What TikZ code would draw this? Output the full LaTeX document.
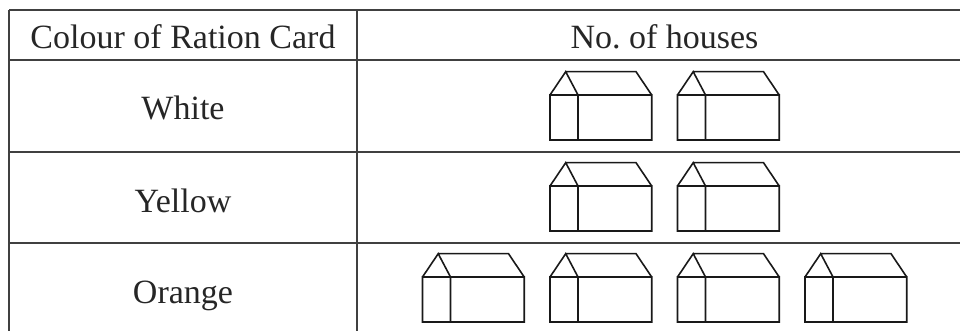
\documentclass[tikz,border=0pt]{standalone}
\usepackage{fontspec}
\setmainfont{Liberation Serif}
\begin{document}
\begin{tikzpicture}
  [x=1pt,y=1pt,
   grid/.style={line width=1.6pt,black!75},
   label/.style={inner sep=0pt,anchor=base,font=\fontsize{34}{40}\selectfont,text=black!85},
   house/.pic={
     \draw[line width=1.6pt,black!90,line join=miter]
       (0,0) rectangle (101.7,45)
       (28,0) -- (28,45)
       (0,45) -- (15.7,68.3) -- (28,45)
       (15.7,68.3) -- (86,68.3) -- (101.7,45);
   }]
\useasboundingbox (0,0) rectangle (960,331);

% table frame
\coordinate (tl) at (9,321);
\coordinate (tr) at (960,321);
\coordinate (bl) at (9,0);
\coordinate (ml) at (357,321);
\coordinate (mb) at (357,0);
\coordinate (h1l) at (9,271);
\coordinate (h1r) at (960,271);
\coordinate (h2l) at (9,179);
\coordinate (h2r) at (960,179);
\coordinate (h3l) at (9,88);
\coordinate (h3r) at (960,88);

\path [grid] (tl) edge (tr) (tl) edge (bl) (ml) edge (mb)
  (h1l) edge (h1r) (h2l) edge (h2r) (h3l) edge (h3r);

% texts
\node (head1)[label] at (183,282.7) {Colour of Ration Card};
\node (head2)[label] at (664.5,282.7) {No.\ of houses};
\node (white)[label] at (183,211) {White};
\node (yellow)[label] at (183,118.7) {Yellow};
\node (orange)[label] at (183,27.7) {Orange};

% houses
\foreach \x in {550,677.5}
  \pic at (\x,191) {house};
\foreach \x in {550,677.5}
  \pic at (\x,100) {house};
\foreach \x in {422.5,550,677.5,805}
  \pic at (\x,9) {house};
\end{tikzpicture}
\end{document}
